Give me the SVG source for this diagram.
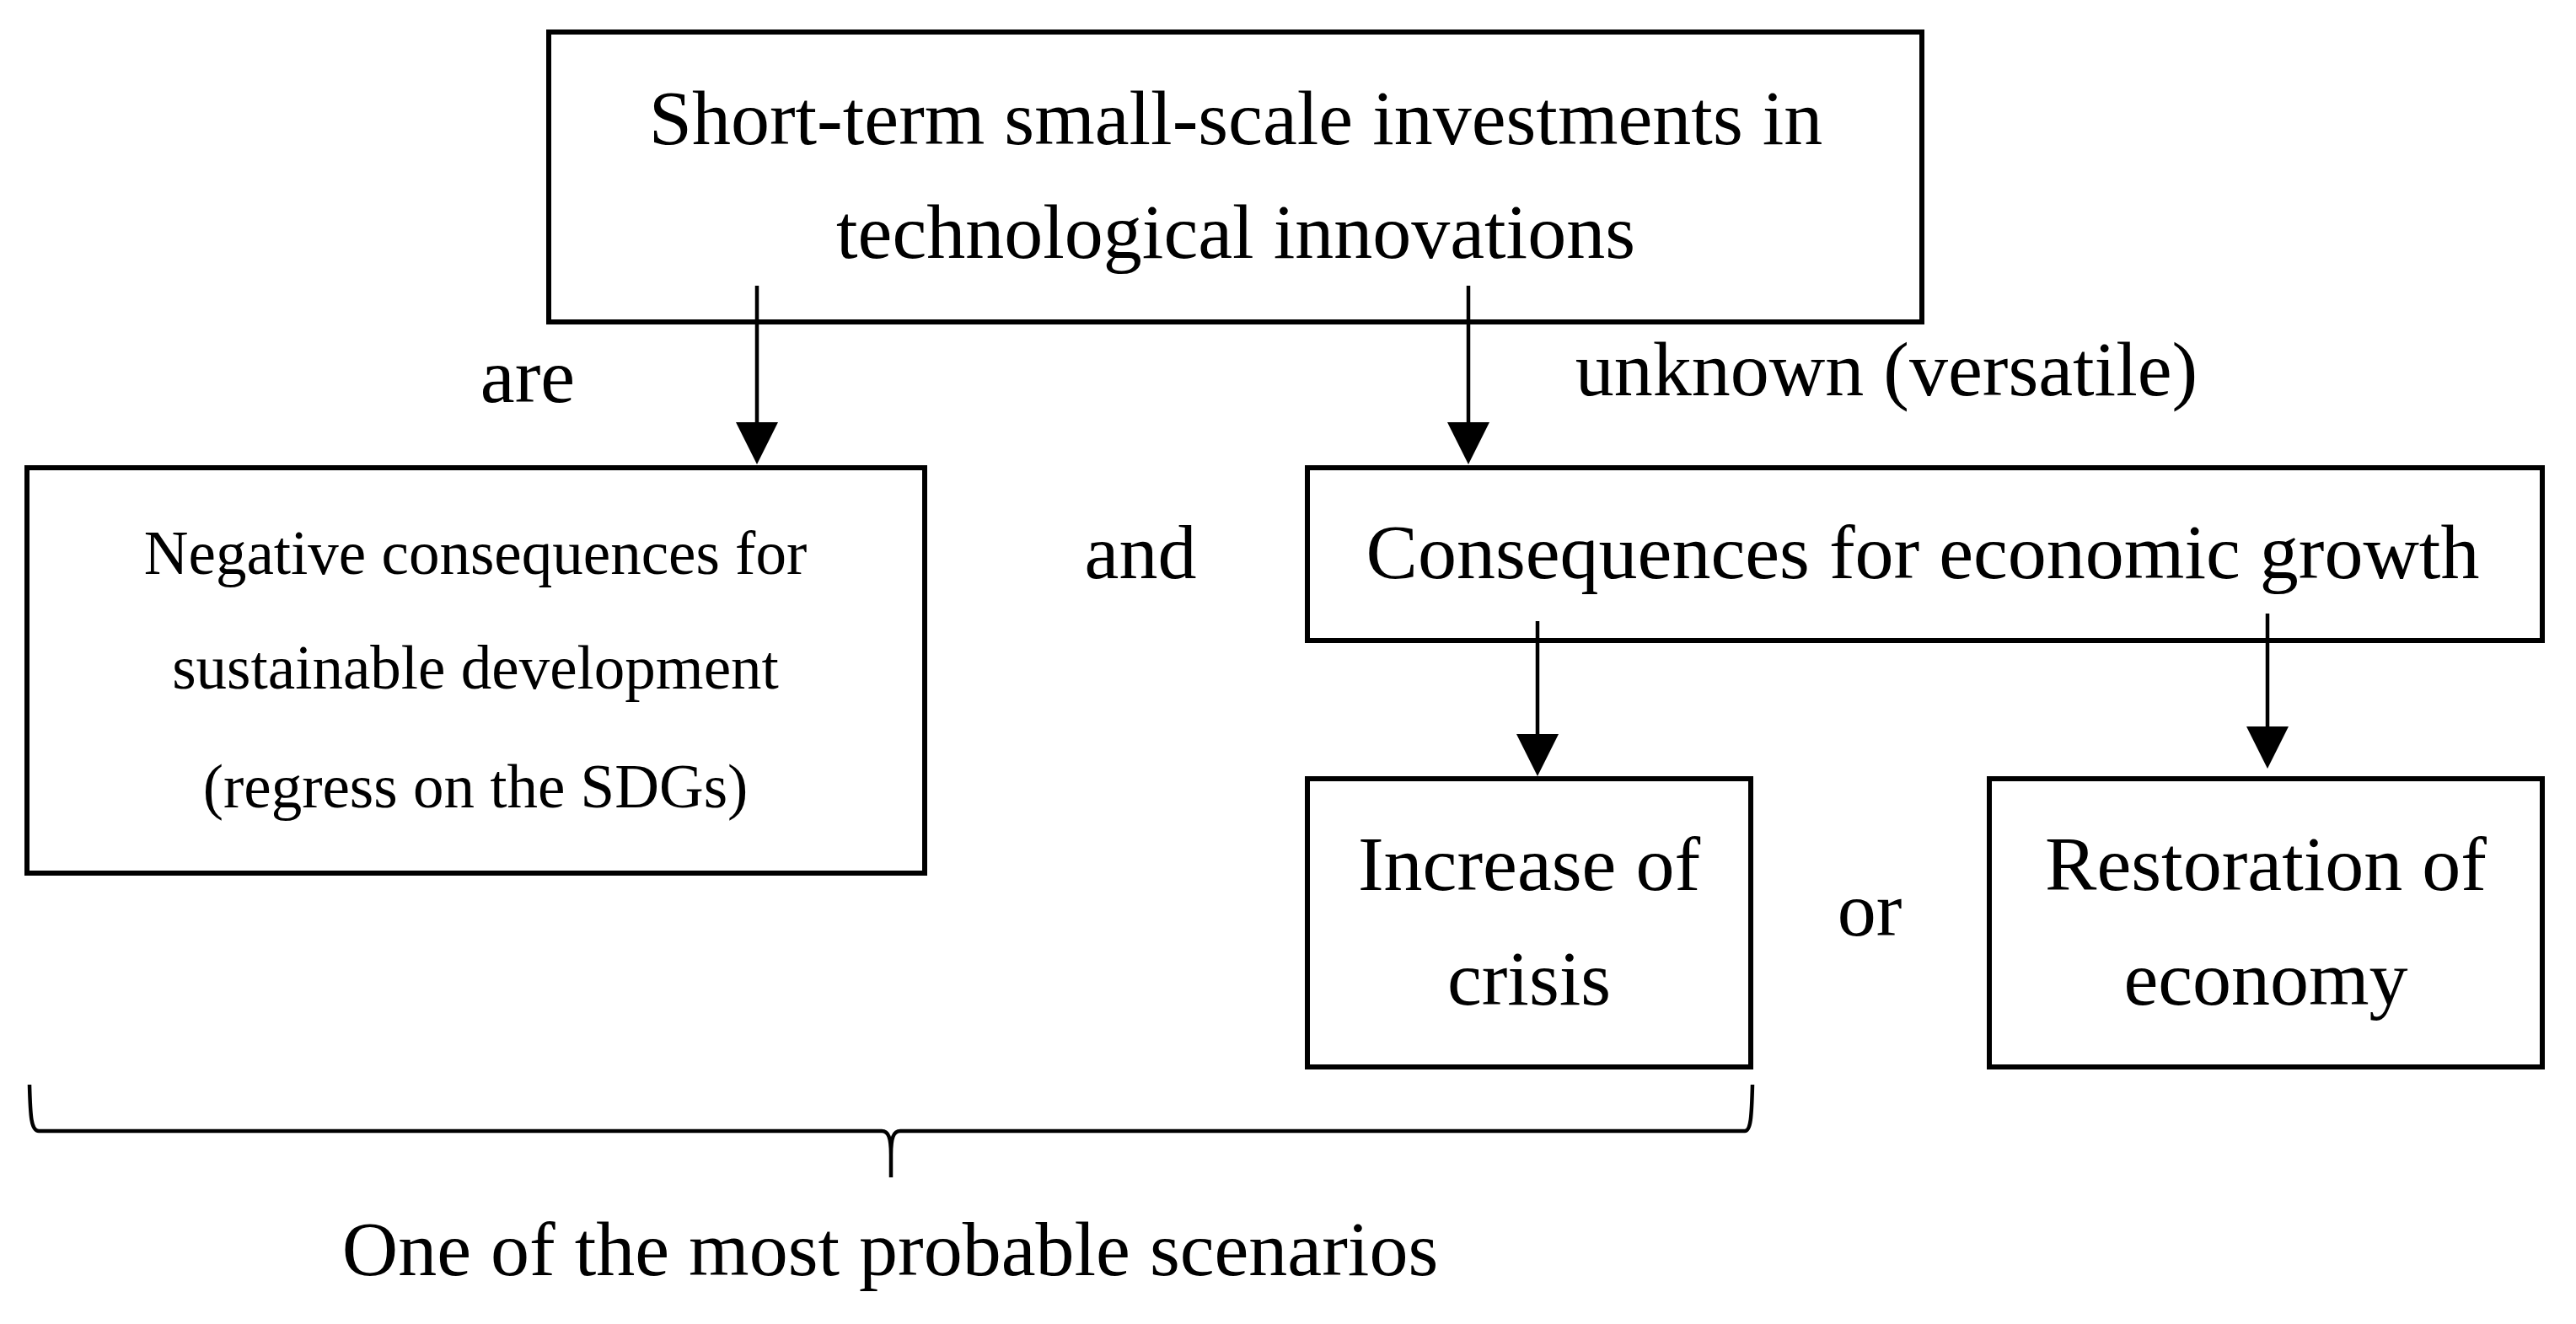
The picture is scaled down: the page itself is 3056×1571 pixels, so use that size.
<svg xmlns="http://www.w3.org/2000/svg" width="3056" height="1571" viewBox="0 0 3056 1571">
<style>
  .box { fill: none; stroke: #000; stroke-width: 6; }
  .lbl { font-family: "Liberation Serif", "Times New Roman", serif; font-size: 92px; fill: #000; text-anchor: middle; }
  .small { font-size: 73px; }
  .conn { stroke: #000; stroke-width: 4.5; fill: none; }
  .brace { stroke: #000; stroke-width: 4.5; fill: none; stroke-linejoin: round; }
</style>
<defs>
  <marker id="arrow" viewBox="0 0 50 50" refX="40" refY="25" markerWidth="50" markerHeight="50" markerUnits="userSpaceOnUse" orient="auto">
    <path d="M0,0 L50,25 L0,50 z" fill="#000"/>
  </marker>
</defs>
<rect width="3056" height="1571" fill="#fff"/>

<g id="node-top">
  <rect class="box" x="651" y="38" width="1629" height="344"/>
  <text class="lbl" x="1466" y="171">Short-term small-scale investments in</text>
  <text class="lbl" x="1466" y="306">technological innovations</text>
</g>

<g id="node-negative">
  <rect class="box" x="32" y="555" width="1065" height="481"/>
  <text class="lbl small" x="564" y="681">Negative consequences for</text>
  <text class="lbl small" x="564" y="817">sustainable development</text>
  <text class="lbl small" x="564" y="958">(regress on the SDGs)</text>
</g>

<g id="node-growth">
  <rect class="box" x="1551" y="555" width="1465" height="205"/>
  <text class="lbl" x="2281" y="686">Consequences for economic growth</text>
</g>

<g id="node-crisis">
  <rect class="box" x="1551" y="924" width="526" height="342"/>
  <text class="lbl" x="1814" y="1056">Increase of</text>
  <text class="lbl" x="1814" y="1192">crisis</text>
</g>

<g id="node-restoration">
  <rect class="box" x="2360" y="924" width="656" height="342"/>
  <text class="lbl" x="2688" y="1056">Restoration of</text>
  <text class="lbl" x="2688" y="1192">economy</text>
</g>

<g id="connectors">
  <line class="conn" x1="898" y1="339" x2="898" y2="541" marker-end="url(#arrow)"/>
  <line class="conn" x1="1742" y1="339" x2="1742" y2="541" marker-end="url(#arrow)"/>
  <line class="conn" x1="1824" y1="737" x2="1824" y2="911" marker-end="url(#arrow)"/>
  <line class="conn" x1="2690" y1="728" x2="2690" y2="902" marker-end="url(#arrow)"/>
</g>

<g id="labels">
  <text class="lbl" x="626" y="477">are</text>
  <text class="lbl" x="2238" y="469">unknown (versatile)</text>
  <text class="lbl" x="1353" y="686">and</text>
  <text class="lbl" x="2218" y="1110">or</text>
</g>

<g id="brace-group">
  <path class="brace" d="M35,1287 C36,1325 37,1342 46,1342 L1046,1342 C1054,1342 1057,1350 1057,1370 L1057,1397 M1057,1370 C1057,1350 1060,1342 1068,1342 L2070,1342 C2077,1342 2078,1325 2079,1287"/>
  <text class="lbl" x="1056" y="1513">One of the most probable scenarios</text>
</g>
</svg>
